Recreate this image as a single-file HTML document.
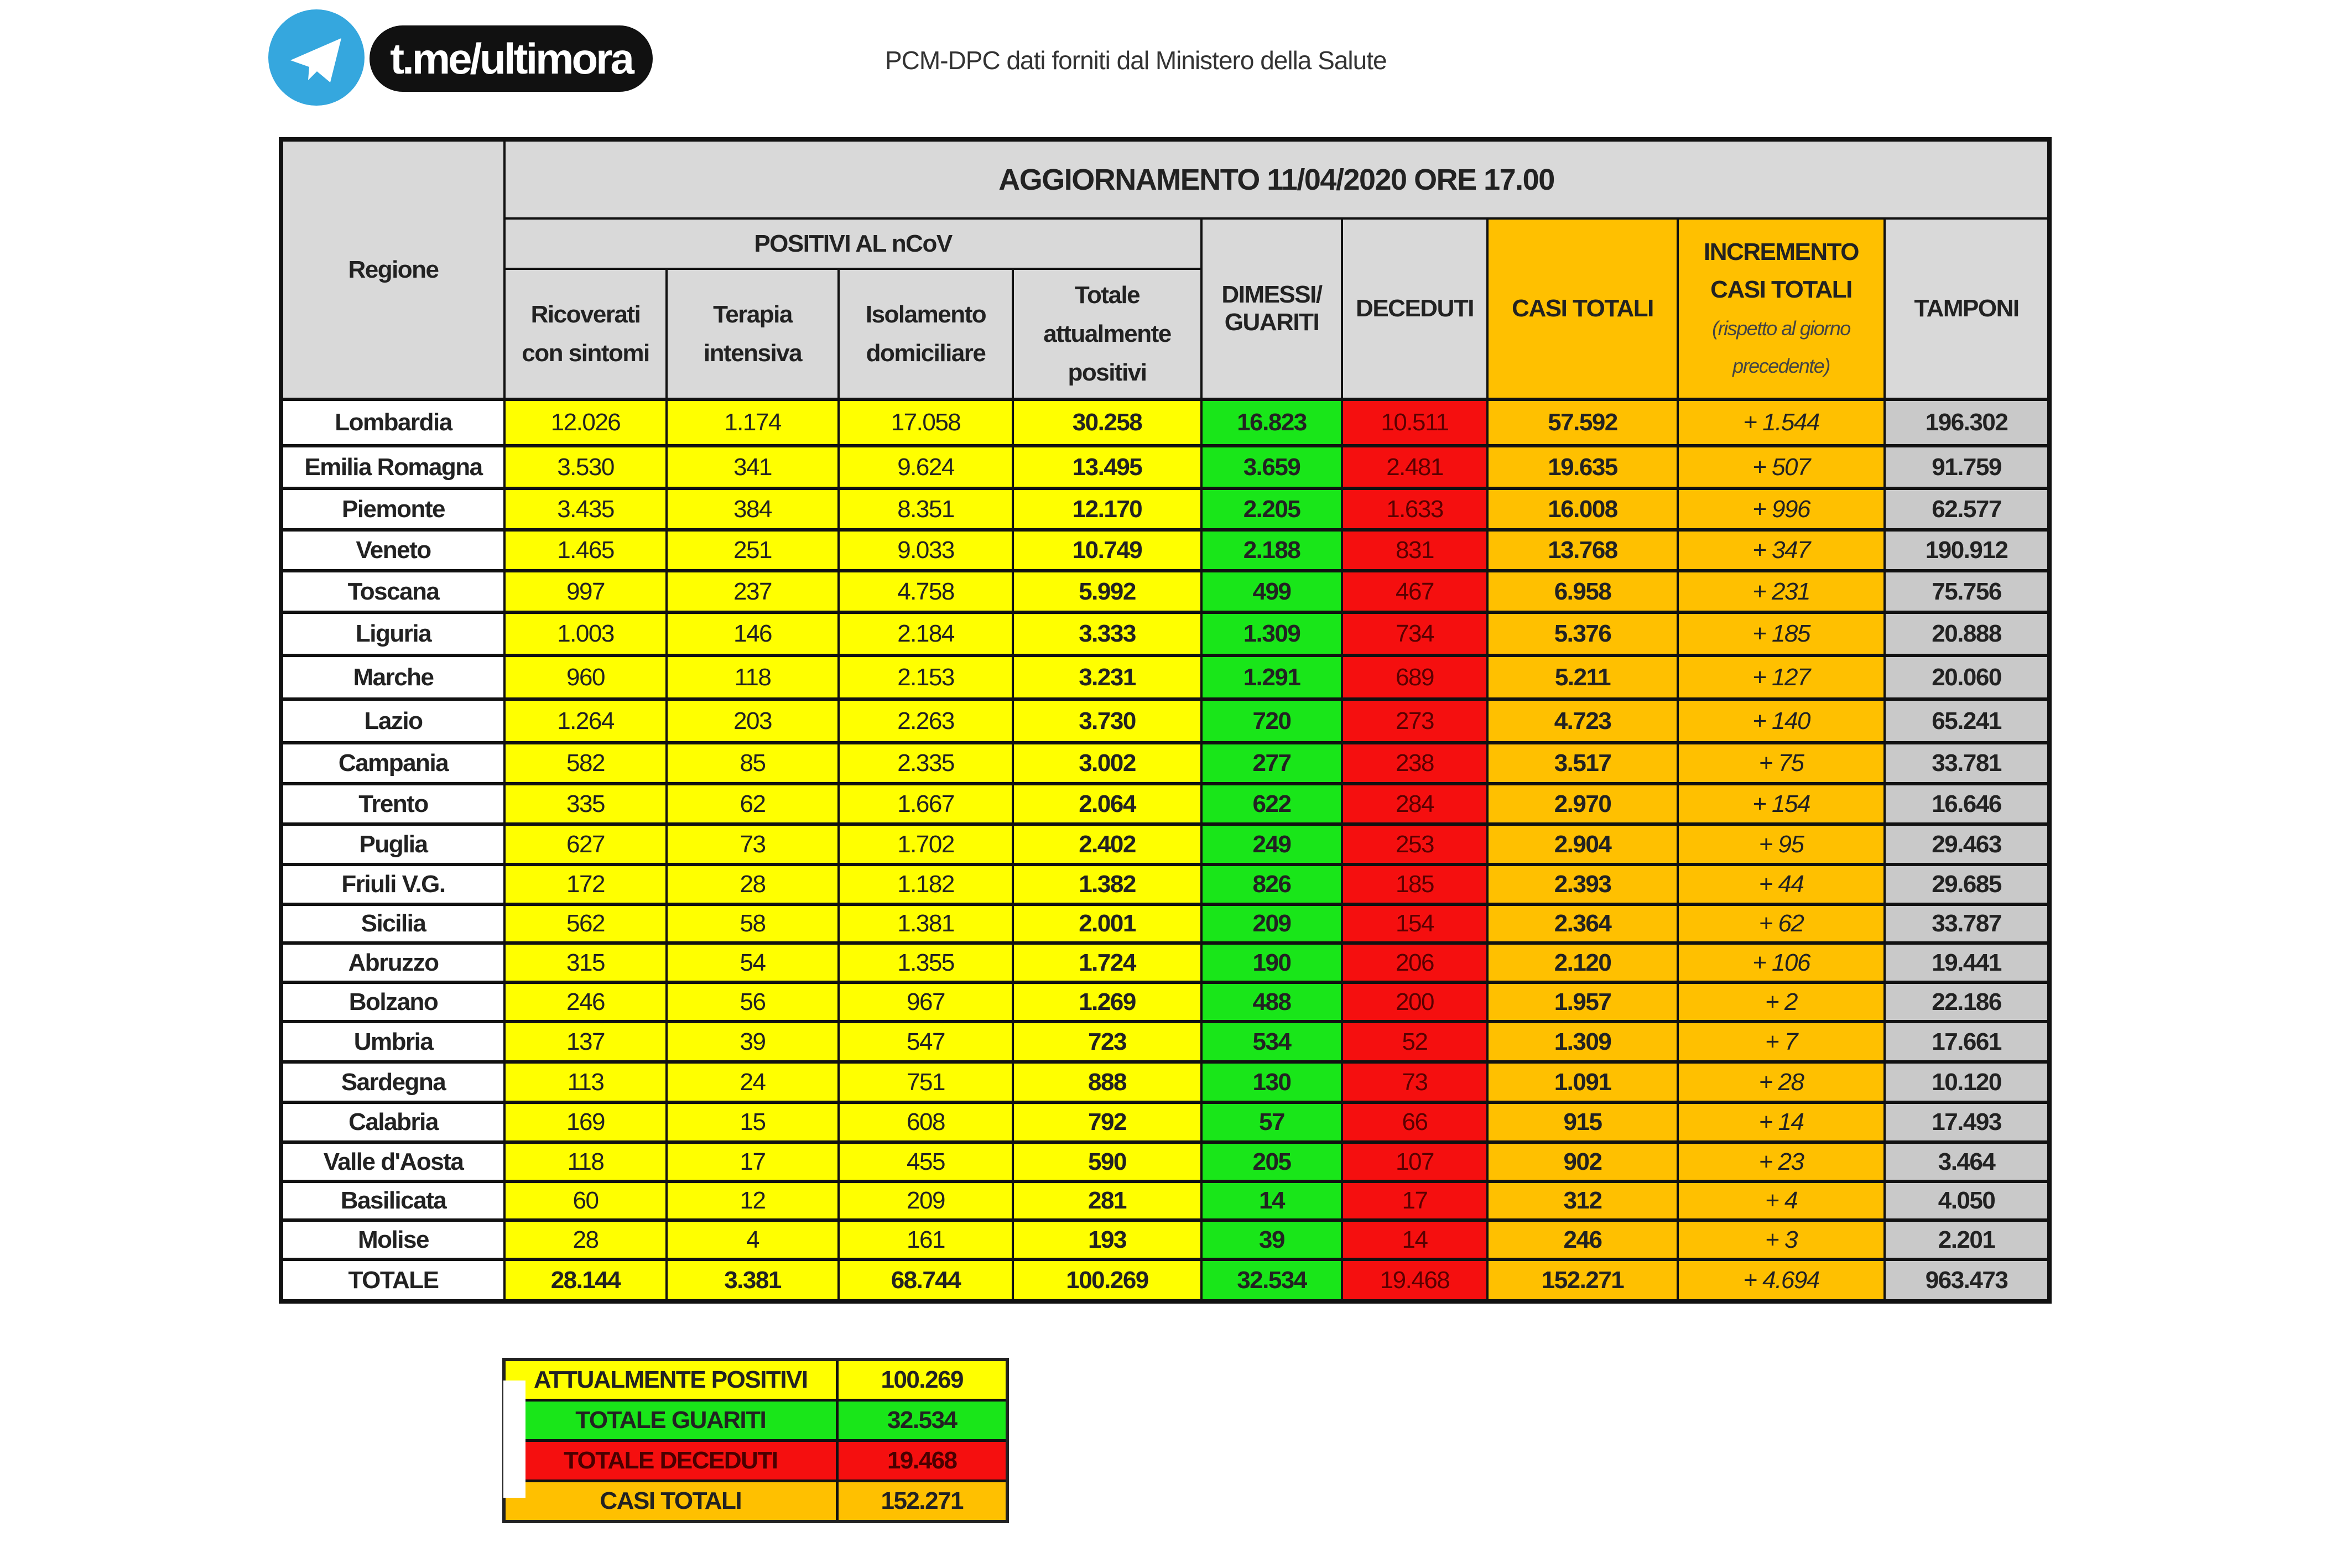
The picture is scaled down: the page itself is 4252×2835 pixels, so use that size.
<!DOCTYPE html>
<html><head><meta charset="utf-8"><style>
body{margin:0;width:4252px;height:2835px;background:#fff;position:relative;overflow:hidden;font-family:"Liberation Sans",sans-serif;}
table{border-collapse:collapse;table-layout:fixed;position:absolute;}
td{border:4px solid #111;text-align:center;vertical-align:middle;padding:0;font-size:44px;color:#222;letter-spacing:-1.5px;overflow:hidden;white-space:nowrap;}
#main{left:504px;top:248px;width:3197px;border:8px solid #111;}
#main tr.d td{border-top:6px solid #111;border-bottom:6px solid #111;}
.g{background:#d9d9d9;font-weight:bold;}
.y{background:#ffff00;}
.gr{background:#19e619;font-weight:bold;}
.r{background:#f50f0f;color:#5a0000;}
.o{background:#ffc000;}
.t{background:#c9c9c9;font-weight:bold;}
.w{background:#fff;font-weight:bold;}
.b{font-weight:bold;}
.i{font-style:italic;}
.hd td{white-space:normal;line-height:70px;}
#sum{left:908px;top:2455px;width:910px;border:6px solid #222;}
#sum td{height:68px;font-weight:bold;border-width:5px;}
</style></head><body>
<div style="position:absolute;left:485px;top:17px;width:174px;height:174px;border-radius:50%;background:#35a7de;"></div>
<svg style="position:absolute;left:485px;top:17px" width="174" height="174"><polygon points="40,92 132,52 112,132 88,112 72,128 74,104" fill="#fff"/></svg>
<div style="position:absolute;left:668px;top:46px;width:512px;height:120px;border-radius:60px;background:#111;color:#fff;font-weight:bold;font-size:78px;line-height:120px;text-align:center;letter-spacing:-4px;">t.me/ultimora</div>
<div style="position:absolute;left:1600px;top:82px;font-size:46px;color:#333;letter-spacing:-1px;">PCM-DPC dati forniti dal Ministero della Salute</div>
<table id="main">
<colgroup><col style="width:404px"><col style="width:293px"><col style="width:311px"><col style="width:315px"><col style="width:341px"><col style="width:254px"><col style="width:263px"><col style="width:344px"><col style="width:374px"><col style="width:298px"></colgroup>
<tr style="height:143px"><td class="g" rowspan="3">Regione</td><td class="g" colspan="9" style="font-size:54px">AGGIORNAMENTO 11/04/2020 ORE 17.00</td></tr>
<tr style="height:91px"><td class="g" colspan="4">POSITIVI AL nCoV</td><td class="g hd" rowspan="2">DIMESSI/<br>GUARITI</td><td class="g" rowspan="2">DECEDUTI</td><td class="o b" rowspan="2">CASI TOTALI</td><td class="o b hd" rowspan="2" style="line-height:68px">INCREMENTO<br>CASI TOTALI<br><span style="font-weight:normal;font-style:italic;font-size:36px;line-height:52px;color:#444">(rispetto al giorno<br>precedente)</span></td><td class="g" rowspan="2">TAMPONI</td></tr>
<tr style="height:236px" class="hd"><td class="g">Ricoverati<br>con sintomi</td><td class="g">Terapia<br>intensiva</td><td class="g">Isolamento<br>domiciliare</td><td class="g">Totale<br>attualmente<br>positivi</td></tr>
<tr class="d" style="height:84px"><td class="w">Lombardia</td><td class="y">12.026</td><td class="y">1.174</td><td class="y">17.058</td><td class="y b">30.258</td><td class="gr">16.823</td><td class="r">10.511</td><td class="o b">57.592</td><td class="o i">+ 1.544</td><td class="t">196.302</td></tr>
<tr class="d" style="height:77px"><td class="w">Emilia Romagna</td><td class="y">3.530</td><td class="y">341</td><td class="y">9.624</td><td class="y b">13.495</td><td class="gr">3.659</td><td class="r">2.481</td><td class="o b">19.635</td><td class="o i">+ 507</td><td class="t">91.759</td></tr>
<tr class="d" style="height:75px"><td class="w">Piemonte</td><td class="y">3.435</td><td class="y">384</td><td class="y">8.351</td><td class="y b">12.170</td><td class="gr">2.205</td><td class="r">1.633</td><td class="o b">16.008</td><td class="o i">+ 996</td><td class="t">62.577</td></tr>
<tr class="d" style="height:74px"><td class="w">Veneto</td><td class="y">1.465</td><td class="y">251</td><td class="y">9.033</td><td class="y b">10.749</td><td class="gr">2.188</td><td class="r">831</td><td class="o b">13.768</td><td class="o i">+ 347</td><td class="t">190.912</td></tr>
<tr class="d" style="height:75px"><td class="w">Toscana</td><td class="y">997</td><td class="y">237</td><td class="y">4.758</td><td class="y b">5.992</td><td class="gr">499</td><td class="r">467</td><td class="o b">6.958</td><td class="o i">+ 231</td><td class="t">75.756</td></tr>
<tr class="d" style="height:78px"><td class="w">Liguria</td><td class="y">1.003</td><td class="y">146</td><td class="y">2.184</td><td class="y b">3.333</td><td class="gr">1.309</td><td class="r">734</td><td class="o b">5.376</td><td class="o i">+ 185</td><td class="t">20.888</td></tr>
<tr class="d" style="height:79px"><td class="w">Marche</td><td class="y">960</td><td class="y">118</td><td class="y">2.153</td><td class="y b">3.231</td><td class="gr">1.291</td><td class="r">689</td><td class="o b">5.211</td><td class="o i">+ 127</td><td class="t">20.060</td></tr>
<tr class="d" style="height:79px"><td class="w">Lazio</td><td class="y">1.264</td><td class="y">203</td><td class="y">2.263</td><td class="y b">3.730</td><td class="gr">720</td><td class="r">273</td><td class="o b">4.723</td><td class="o i">+ 140</td><td class="t">65.241</td></tr>
<tr class="d" style="height:74px"><td class="w">Campania</td><td class="y">582</td><td class="y">85</td><td class="y">2.335</td><td class="y b">3.002</td><td class="gr">277</td><td class="r">238</td><td class="o b">3.517</td><td class="o i">+ 75</td><td class="t">33.781</td></tr>
<tr class="d" style="height:73px"><td class="w">Trento</td><td class="y">335</td><td class="y">62</td><td class="y">1.667</td><td class="y b">2.064</td><td class="gr">622</td><td class="r">284</td><td class="o b">2.970</td><td class="o i">+ 154</td><td class="t">16.646</td></tr>
<tr class="d" style="height:73px"><td class="w">Puglia</td><td class="y">627</td><td class="y">73</td><td class="y">1.702</td><td class="y b">2.402</td><td class="gr">249</td><td class="r">253</td><td class="o b">2.904</td><td class="o i">+ 95</td><td class="t">29.463</td></tr>
<tr class="d" style="height:72px"><td class="w">Friuli V.G.</td><td class="y">172</td><td class="y">28</td><td class="y">1.182</td><td class="y b">1.382</td><td class="gr">826</td><td class="r">185</td><td class="o b">2.393</td><td class="o i">+ 44</td><td class="t">29.685</td></tr>
<tr class="d" style="height:70px"><td class="w">Sicilia</td><td class="y">562</td><td class="y">58</td><td class="y">1.381</td><td class="y b">2.001</td><td class="gr">209</td><td class="r">154</td><td class="o b">2.364</td><td class="o i">+ 62</td><td class="t">33.787</td></tr>
<tr class="d" style="height:71px"><td class="w">Abruzzo</td><td class="y">315</td><td class="y">54</td><td class="y">1.355</td><td class="y b">1.724</td><td class="gr">190</td><td class="r">206</td><td class="o b">2.120</td><td class="o i">+ 106</td><td class="t">19.441</td></tr>
<tr class="d" style="height:71px"><td class="w">Bolzano</td><td class="y">246</td><td class="y">56</td><td class="y">967</td><td class="y b">1.269</td><td class="gr">488</td><td class="r">200</td><td class="o b">1.957</td><td class="o i">+ 2</td><td class="t">22.186</td></tr>
<tr class="d" style="height:73px"><td class="w">Umbria</td><td class="y">137</td><td class="y">39</td><td class="y">547</td><td class="y b">723</td><td class="gr">534</td><td class="r">52</td><td class="o b">1.309</td><td class="o i">+ 7</td><td class="t">17.661</td></tr>
<tr class="d" style="height:73px"><td class="w">Sardegna</td><td class="y">113</td><td class="y">24</td><td class="y">751</td><td class="y b">888</td><td class="gr">130</td><td class="r">73</td><td class="o b">1.091</td><td class="o i">+ 28</td><td class="t">10.120</td></tr>
<tr class="d" style="height:72px"><td class="w">Calabria</td><td class="y">169</td><td class="y">15</td><td class="y">608</td><td class="y b">792</td><td class="gr">57</td><td class="r">66</td><td class="o b">915</td><td class="o i">+ 14</td><td class="t">17.493</td></tr>
<tr class="d" style="height:71px"><td class="w">Valle d'Aosta</td><td class="y">118</td><td class="y">17</td><td class="y">455</td><td class="y b">590</td><td class="gr">205</td><td class="r">107</td><td class="o b">902</td><td class="o i">+ 23</td><td class="t">3.464</td></tr>
<tr class="d" style="height:70px"><td class="w">Basilicata</td><td class="y">60</td><td class="y">12</td><td class="y">209</td><td class="y b">281</td><td class="gr">14</td><td class="r">17</td><td class="o b">312</td><td class="o i">+ 4</td><td class="t">4.050</td></tr>
<tr class="d" style="height:71px"><td class="w">Molise</td><td class="y">28</td><td class="y">4</td><td class="y">161</td><td class="y b">193</td><td class="gr">39</td><td class="r">14</td><td class="o b">246</td><td class="o i">+ 3</td><td class="t">2.201</td></tr>
<tr class="d" style="height:76px"><td class="w">TOTALE</td><td class="y b">28.144</td><td class="y b">3.381</td><td class="y b">68.744</td><td class="y b">100.269</td><td class="gr">32.534</td><td class="r">19.468</td><td class="o b">152.271</td><td class="o i">+ 4.694</td><td class="t">963.473</td></tr>
</table>
<table id="sum">
<colgroup><col style="width:602px"><col style="width:308px"></colgroup>
<tr><td class="y">ATTUALMENTE POSITIVI</td><td class="y">100.269</td></tr>
<tr><td class="gr">TOTALE GUARITI</td><td class="gr">32.534</td></tr>
<tr><td class="r" style="color:#4a0000">TOTALE DECEDUTI</td><td class="r" style="color:#4a0000">19.468</td></tr>
<tr><td class="o">CASI TOTALI</td><td class="o">152.271</td></tr>
</table>
<div style="position:absolute;left:910px;top:2496px;width:40px;height:212px;background:#fff;"></div>
</body></html>
